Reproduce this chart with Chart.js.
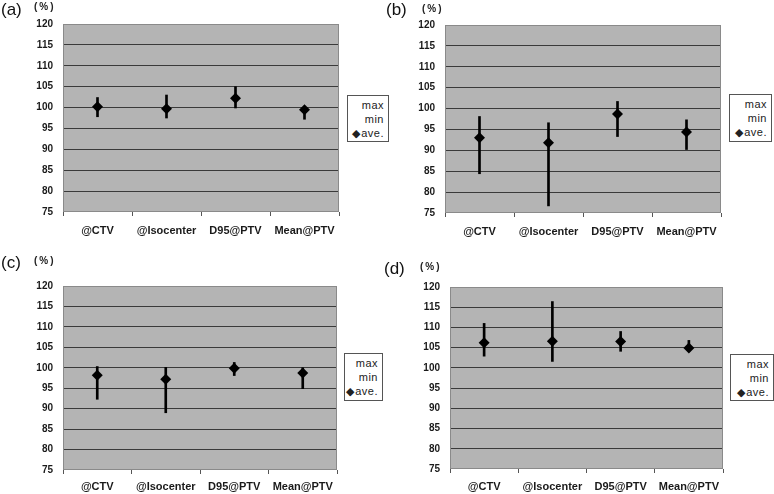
<!DOCTYPE html>
<html>
<head>
<meta charset="utf-8">
<script src="https://cdn.jsdelivr.net/npm/chart.js@4.4.1/dist/chart.umd.min.js"></script>
<style>
  body { margin: 0; background: #fff; width: 774px; height: 494px; position: relative; overflow: hidden;
         font-family: "Liberation Sans", Arial, sans-serif; }
  canvas { position: absolute; }
  .tag { position: absolute; font-size: 17px; color: #111; }
  .pct { position: absolute; font-size: 10px; font-weight: bold; color: #222; letter-spacing: 2px; }
  .legend { position: absolute; background: #fff; border: 1px solid #555; box-sizing: border-box;
            font-size: 11px; color: #222; padding: 2px 4px 0 0; }
  .legend div { display: flex; justify-content: flex-end; align-items: center; height: 14px; letter-spacing: 0.5px; }
  .legend .mk { font-size: 11px; margin-right: 1px; }
</style>
</head>
<body>
<script>
// categories and y ticks shared by all four panels
const categories = ["@CTV", "@Isocenter", "D95@PTV", "Mean@PTV"];
const yMin = 75, yMax = 120, yStep = 5;

// (a)
const maxA = [102.4, 103.0, 105.0, 100.2];
const minA = [97.8, 97.5, 99.9, 97.2];
const aveA = [100.2, 99.7, 102.2, 99.5];
// (b)
const maxB = [98.1, 96.6, 101.7, 97.3];
const minB = [84.4, 76.7, 93.3, 90.2];
const aveB = [93.0, 91.8, 98.7, 94.4];
// (c)
const maxC = [100.3, 100.1, 101.3, 100.0];
const minC = [92.3, 89.0, 98.1, 94.9];
const aveC = [98.2, 97.2, 99.9, 98.7];
// (d)
const maxD = [111.0, 116.4, 109.0, 106.8];
const minD = [102.9, 101.6, 104.1, 104.2];
const aveD = [106.2, 106.6, 106.5, 104.9];

// where each panel sits on the page
const panels = [
  { tag: "(a)", max: maxA, min: minA, ave: aveA, x0: 0,   y0: 0,   L: 63,  R: 339, T: 24,  B: 212, labelPad: 8,
    tagPos: [1, 0], pctPos: [34, 1], leg: [347, 95, 42, 47] },
  { tag: "(b)", max: maxB, min: minB, ave: aveB, x0: 387, y0: 0,   L: 445, R: 721, T: 25,  B: 213, labelPad: 8,
    tagPos: [386, 0], pctPos: [422, 3], leg: [729, 94, 43, 48] },
  { tag: "(c)", max: maxC, min: minC, ave: aveC, x0: 0,   y0: 247, L: 63,  R: 337, T: 286, B: 470, labelPad: 6,
    tagPos: [1, 253], pctPos: [34, 255], leg: [344, 353, 39, 48] },
  { tag: "(d)", max: maxD, min: minD, ave: aveD, x0: 387, y0: 247, L: 450, R: 723, T: 287, B: 469, labelPad: 7,
    tagPos: [384, 259], pctPos: [420, 261], leg: [730, 354, 44, 47] }
];

const plotBox = {
  id: "plotBox",
  beforeDraw(chart) {
    const a = chart.chartArea, c = chart.ctx;
    c.save();
    c.fillStyle = "#b4b4b4";
    c.fillRect(a.left, a.top, a.right - a.left, a.bottom - a.top);
    c.restore();
  },
  beforeDatasetsDraw(chart) {
    const a = chart.chartArea, c = chart.ctx;
    c.save();
    c.strokeStyle = "#8a8a8a";
    c.lineWidth = 1;
    c.strokeRect(a.left + 0.5, a.top + 0.5, a.right - a.left - 1, a.bottom - a.top - 1);
    c.restore();
  }
};

function addText(cls, txt, x, y) {
  const d = document.createElement("div");
  d.className = cls;
  d.textContent = txt;
  d.style.left = x + "px";
  d.style.top = y + "px";
  document.body.appendChild(d);
}

function addLegend(p) {
  const [x, y, w, h] = p.leg;
  const d = document.createElement("div");
  d.className = "legend";
  Object.assign(d.style, { left: x + "px", top: y + "px", width: w + "px", height: h + "px" });
  d.innerHTML = `<div>max</div><div>min</div><div><span class="mk">&#9670;</span>ave.</div>`;
  document.body.appendChild(d);
}

panels.forEach(p => {
  const W = 345, H = 247;
  const cv = document.createElement("canvas");
  cv.width = W; cv.height = H;
  cv.style.left = p.x0 + "px";
  cv.style.top = p.y0 + "px";
  document.body.appendChild(cv);

  addText("tag", p.tag, p.tagPos[0], p.tagPos[1]);
  addText("pct", "(%)", p.pctPos[0], p.pctPos[1]);
  addLegend(p);

  new Chart(cv.getContext("2d"), {
    type: "bar",
    data: {
      labels: categories,
      datasets: [
        { label: "range", data: p.min.map((v, i) => [v, p.max[i]]),
          backgroundColor: "#000", borderWidth: 0, barThickness: 2 },
        { type: "line", label: "ave.", data: p.ave, showLine: false,
          pointStyle: "rectRot", pointRadius: 5.5, backgroundColor: "#000", borderColor: "#000", borderWidth: 0 }
      ]
    },
    options: {
      responsive: false,
      animation: false,
      layout: { padding: { left: 0, top: p.T - p.y0, right: p.x0 + W - p.R, bottom: 0 } },
      plugins: { legend: { display: false }, tooltip: { enabled: false } },
      scales: {
        x: {
          afterFit: s => { s.height = p.y0 + H - p.B; },
          grid: { drawOnChartArea: false, drawTicks: true, tickLength: 4, color: "#555" },
          border: { display: false },
          ticks: { color: "#1a1a1a", font: { family: "Liberation Sans, Arial", size: 11, weight: "bold" },
                   padding: p.labelPad, maxRotation: 0, autoSkip: false }
        },
        y: {
          min: yMin, max: yMax,
          afterFit: s => { s.width = p.L - p.x0; },
          grid: { drawTicks: false,
                  color: c => (c.tick && (c.tick.value === yMin || c.tick.value === yMax)) ? "rgba(0,0,0,0)" : "#3a3a3a" },
          border: { display: false },
          ticks: { stepSize: yStep, padding: 10, color: "#1a1a1a",
                   font: { family: "Liberation Sans, Arial", size: 10, weight: "bold" } }
        }
      }
    },
    plugins: [plotBox]
  });
});
</script>
</body>
</html>
